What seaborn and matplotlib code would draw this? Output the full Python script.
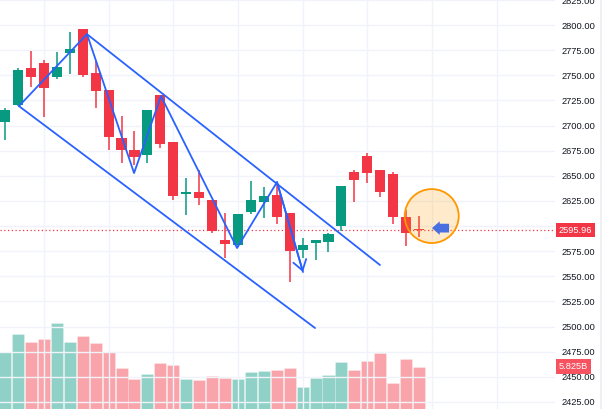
import numpy as np
import pandas as pd
import matplotlib
matplotlib.use("Agg")
import matplotlib.pyplot as plt
import seaborn as sns
from matplotlib.patches import Ellipse
from matplotlib.lines import Line2D
from matplotlib.transforms import blended_transform_factory

# ---------------- data ----------------
opens = [2703.5, 2721, 2757, 2762, 2748, 2772, 2796, 2752, 2735, 2687.5, 2675.5,
         2670.5, 2730, 2683.5, 2632, 2634, 2626, 2586, 2581, 2614, 2624, 2631,
         2613, 2576, 2583, 2584, 2600, 2654, 2670, 2656, 2652, 2609, 2596.5]
highs = [2718, 2757, 2774, 2765, 2773, 2793, 2796, 2764, 2735, 2709.5, 2694.5,
         2715.5, 2730, 2683.5, 2648, 2656, 2626, 2613, 2612, 2645, 2639, 2643,
         2613, 2588, 2586, 2593, 2640, 2656, 2673, 2656, 2654, 2616, 2610]
lows = [2685.5, 2720, 2738, 2708.5, 2746, 2751, 2748, 2717.5, 2675.5, 2662.5, 2660.5,
        2662.5, 2677.5, 2626, 2611, 2621, 2593, 2568, 2579, 2612, 2608, 2602,
        2544, 2568, 2566, 2574, 2595, 2624, 2643, 2629, 2602, 2580, 2589]
closes = [2715.5, 2755, 2748, 2737, 2758, 2776, 2750, 2734, 2688.5, 2675.5, 2668.5,
          2715.5, 2681.5, 2630, 2633.5, 2628, 2595, 2582, 2612, 2626, 2630, 2609,
          2575, 2581, 2586, 2592, 2640, 2646, 2653, 2634, 2609, 2593, 2595.96]
volumes_b = [7.89, 10.33, 9.27, 9.64, 11.88, 9.27, 10.05, 9.13, 7.89, 5.60, 4.09,
             4.86, 6.29, 6.06, 4.09, 3.95, 4.50, 4.23, 4.13, 5.05, 5.23, 5.41,
             5.69, 2.99, 4.31, 4.68, 6.51, 5.33, 6.61, 7.75, 3.54, 6.89, 5.825]

price_ticks = [2425, 2450, 2475, 2500, 2525, 2550, 2575, 2600, 2625, 2650, 2675,
               2700, 2725, 2750, 2775, 2800, 2825]
last_price_label = "2595.96"
last_volume_label = "5.825B"

# drawings (bar index, price)
zigzag_idx = [1.07, 6.33, 9.97, 12.05, 17.93, 21.02, 23.03]
zigzag_price = [2719.4, 2791.0, 2652.8, 2729.4, 2578.2, 2643.8, 2554.3]
upper_channel_idx = [6.33, 28.98]
upper_channel_price = [2791.0, 2561.3]
lower_channel_idx = [1.07, 23.96]
lower_channel_price = [2719.4, 2498.6]
highlight_idx, highlight_price = 32.98, 2610.0
pointer_tip_idx, pointer_tail_idx, pointer_price = 33.0, 34.32, 2598.0

df = pd.DataFrame({"open": opens, "high": highs, "low": lows,
                   "close": closes, "volume": volumes_b})
df["idx"] = np.arange(len(df))
df["up"] = df["close"] >= df["open"]

GREEN = "#089981"
RED = "#F23645"
BLUE = "#2962FF"
FS = 6.7

sns.set_theme(style="white")
plt.rcParams["font.family"] = ["Liberation Sans", "DejaVu Sans"]

fig = plt.figure(figsize=(6.06, 4.09), dpi=100)
fig.patch.set_facecolor("white")
ax = fig.add_axes([0, 0, 555 / 606, 1])
vax = ax.twinx()

# price axis setup
ax.set_xlim(-0.394, 42.51)
ax.set_ylim(2418.0, 2824.9)
ax.set_yticks(price_ticks)
ax.set_yticklabels([f"{t:.2f}" for t in price_ticks])
ax.yaxis.tick_right()
ax.tick_params(axis="y", length=0, pad=5, labelsize=FS, labelcolor="#131722")
ax.set_xticks([3, 8, 13, 18, 23, 28, 33, 38])
ax.tick_params(axis="x", length=0, labelbottom=False)
ax.grid(True, color="#f0f3fa", lw=1)
ax.set_axisbelow(True)
for s in ax.spines.values():
    s.set_visible(False)

# volume axis
vax.set_ylim(0, 56.3)
vax.set_yticks([])
for s in vax.spines.values():
    s.set_visible(False)
vcols = [GREEN if u else RED for u in df["up"]]
vax.bar(df["idx"], df["volume"], width=0.93, color=vcols, alpha=0.45,
        edgecolor="white", linewidth=0.4)
vax.text(1.0 + 4 / 555, df["volume"].iloc[-1], last_volume_label,
         transform=blended_transform_factory(vax.transAxes, vax.transData),
         ha="left", va="center", fontsize=FS, color="white",
         bbox=dict(boxstyle="square,pad=0.3", fc="#F7525F", ec="none"),
         clip_on=False)

# candles
ccols = [GREEN if u else RED for u in df["up"]]
ax.vlines(df["idx"], df["low"], df["high"], colors=ccols, lw=1.1, zorder=3)
body_h = (df["close"] - df["open"]).abs().clip(lower=1.6)
body_b = df[["open", "close"]].min(axis=1)
ax.bar(df["idx"], body_h, bottom=body_b, width=0.78, color=ccols, zorder=4,
       linewidth=0)

# last price line + label
ax.axhline(closes[-1], color=RED, lw=0.9, ls=(0, (1, 2)), zorder=2)
ax.text(1.0 + 4 / 555, closes[-1], last_price_label,
        transform=blended_transform_factory(ax.transAxes, ax.transData),
        ha="left", va="center", fontsize=FS, color="white",
        bbox=dict(boxstyle="square,pad=0.3", fc=RED, ec="none"),
        clip_on=False, zorder=10)

# drawings
sns.lineplot(x=upper_channel_idx, y=upper_channel_price, ax=ax, color=BLUE,
             lw=1.3, sort=False, zorder=5)
sns.lineplot(x=lower_channel_idx, y=lower_channel_price, ax=ax, color=BLUE,
             lw=1.3, sort=False, zorder=5)
sns.lineplot(x=zigzag_idx, y=zigzag_price, ax=ax, color=BLUE, lw=1.3,
             sort=False, zorder=5)
ax.annotate("", xy=(zigzag_idx[-1], zigzag_price[-1]),
            xytext=(zigzag_idx[-2], zigzag_price[-2]),
            arrowprops=dict(arrowstyle="->,head_length=0.6,head_width=0.4",
                            mutation_scale=12, color=BLUE, lw=1.3,
                            shrinkA=0, shrinkB=0), zorder=5)

circle = Ellipse((highlight_idx, highlight_price), width=54 / 12.935,
                 height=54 * 0.9947, fc=(1.0, 0.596, 0.0, 0.2),
                 ec="#FF9800", lw=1.3, zorder=6)
ax.add_patch(circle)
ax.annotate("", xy=(pointer_tip_idx, pointer_price),
            xytext=(pointer_tail_idx, pointer_price),
            arrowprops=dict(arrowstyle="simple,head_length=0.8,head_width=1.4,tail_width=0.9",
                            mutation_scale=7, fc="#4a6fe0", ec="none",
                            shrinkA=0, shrinkB=0), zorder=7)

ax.set_zorder(vax.get_zorder() + 1)
ax.patch.set_visible(False)
vax.patch.set_visible(False)

fig.add_artist(Line2D([601 / 606, 601 / 606], [0, 1], color="#eceef2", lw=1.2))

fig.savefig("out.png", dpi=100, facecolor="white")
